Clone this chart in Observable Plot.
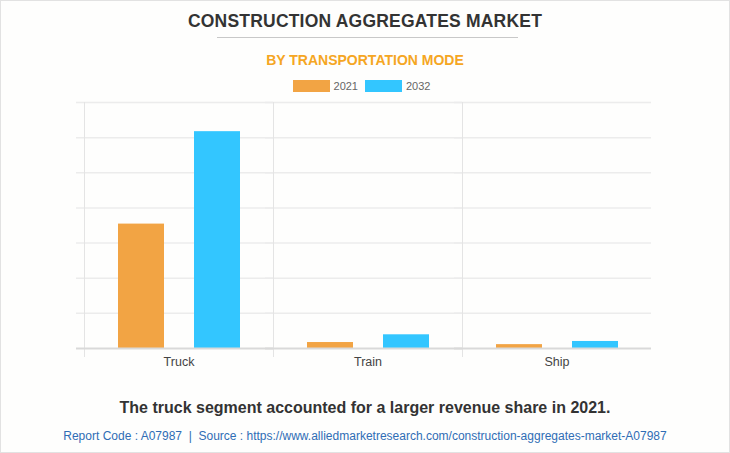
<!DOCTYPE html>
<html>
<head>
<meta charset="utf-8">
<script src="https://cdn.jsdelivr.net/npm/d3@7"></script>
<script src="https://cdn.jsdelivr.net/npm/@observablehq/plot@0.6"></script>
<style>
  html, body { margin: 0; padding: 0; background: #fff; }
  #wrap { position: relative; width: 728px; height: 451px; border: 1px solid #e2e2e2; background: #fefefd; font-family: "Liberation Sans", Arial, sans-serif; overflow: hidden; }
  .abs { position: absolute; left: 0; width: 728px; text-align: center; white-space: nowrap; }
  #title { top: 10px; font-size: 17.5px; font-weight: bold; color: #333; letter-spacing: 0.2px; }
  #rule { position: absolute; top: 36px; left: 216px; width: 301px; height: 1px; background: #c8c8c8; }
  #subtitle { top: 51px; font-size: 14px; font-weight: bold; color: #f5a623; }
  #legend { top: 79px; font-size: 11px; color: #666; display: flex; justify-content: center; align-items: center; gap: 0; }
  .sw { display: inline-block; width: 37px; height: 12px; margin-right: 4px; }
  .lab { margin-right: 7px; }
  #chart { position: absolute; left: -2px; top: 94px; }
  #caption { top: 398px; font-size: 16px; font-weight: bold; color: #333; }
  #footer { top: 428px; font-size: 12px; color: #2f6db5; }
</style>
</head>
<body>
<div id="wrap">
  <div id="title" class="abs">CONSTRUCTION AGGREGATES MARKET</div>
  <div id="rule"></div>
  <div id="subtitle" class="abs">BY TRANSPORTATION MODE</div>
  <div id="legend" class="abs"></div>
  <div id="chart"></div>
  <div id="caption" class="abs">The truck segment accounted for a larger revenue share in 2021.</div>
  <div id="footer" class="abs">Report Code : A07987&nbsp; |&nbsp; Source : https://www.alliedmarketresearch.com/construction-aggregates-market-A07987</div>
</div>
<script>
// Data (unitless; gridlines every 100)
const modes = ["Truck", "Train", "Ship"];
const years = ["2021", "2032"];
const values2021 = [354, 17, 11];
const values2032 = [617, 39, 20];
const colors = ["#f2a444", "#33c6ff"];
const yTicks = [0, 100, 200, 300, 400, 500, 600, 700];

const data = [];
modes.forEach((m, i) => {
  data.push({mode: m, year: years[0], value: values2021[i]});
  data.push({mode: m, year: years[1], value: values2032[i]});
});

// Legend
const legend = document.getElementById("legend");
years.forEach((y, i) => {
  const sw = document.createElement("span");
  sw.className = "sw";
  sw.style.background = colors[i];
  const lab = document.createElement("span");
  lab.className = "lab";
  lab.textContent = y;
  legend.appendChild(sw);
  legend.appendChild(lab);
});

const chart = Plot.plot({
  width: 730,
  height: 276,
  marginLeft: 84,
  marginRight: 78,
  marginTop: 7,
  marginBottom: 23,
  style: {background: "transparent", fontFamily: "Liberation Sans, Arial, sans-serif"},
  fx: {domain: modes, padding: 0, label: null},
  x: {domain: years, paddingInner: 0.4, paddingOuter: 0.43, axis: null},
  y: {domain: [0, 700], axis: null},
  color: {domain: years, range: colors},
  marks: [
    Plot.ruleY(yTicks.slice(1), {stroke: "#ececec", strokeWidth: 1.5, insetLeft: -8}),
    Plot.frame({anchor: "left", stroke: "#e4e4e4", strokeWidth: 1, insetBottom: -8}),
    Plot.barY(data, {fx: "mode", x: "year", y: "value", fill: "year"}),
    Plot.ruleY([0], {stroke: "#d9d9d9", strokeWidth: 2, insetLeft: -8}),
    Plot.axisFx({anchor: "bottom", tickSize: 0, tickPadding: 9, fontSize: 12.5, color: "#444", label: null})
  ]
});
document.getElementById("chart").appendChild(chart);
</script>
</body>
</html>
